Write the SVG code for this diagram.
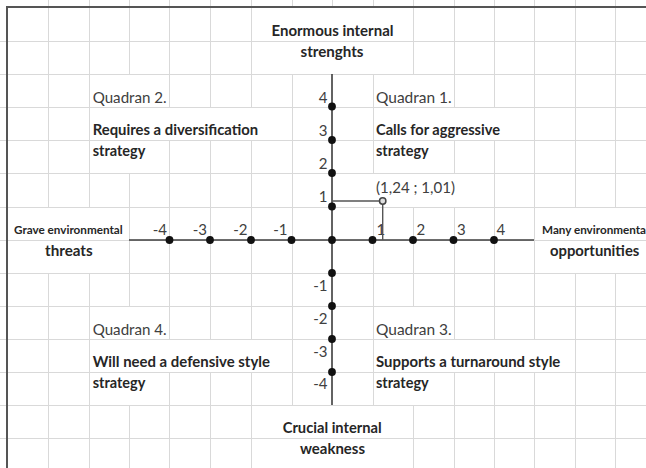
<svg xmlns="http://www.w3.org/2000/svg" width="646" height="468" viewBox="0 0 646 468">
<style>
.grid{stroke:#d9d9d9;stroke-width:1;fill:none;shape-rendering:crispEdges}
.border{stroke:#555;stroke-width:2;fill:none}
.axis{stroke:#3c3c3c;stroke-width:1.6;fill:none}
.conn{stroke:#555;stroke-width:1.4;fill:none}
.dot{fill:#111}
.b{font-family:Lato,"Liberation Sans",sans-serif;font-weight:bold;font-size:15px;fill:#262626}
.r{font-family:Lato,"Liberation Sans",sans-serif;font-size:15px;fill:#404040}
.s{font-family:Lato,"Liberation Sans",sans-serif;font-weight:bold;font-size:11.5px;fill:#262626}
.t{font-family:Lato,"Liberation Sans",sans-serif;font-size:15px;fill:#404040}
.c{text-anchor:middle}
.e{text-anchor:end}
</style>
<rect width="646" height="468" fill="#ffffff"/>
<g id="grid" class="grid">
<path d="M0 41.5H646M0 74.5H646M0 107.5H646M0 140.5H646M0 173.5H646M0 207.5H646M0 240.5H646M0 273.5H646M0 306.5H646M0 339.5H646M0 372.5H646M0 405.5H646M0 438.5H646"/>
<path d="M48.5 0V207M48.5 273V468
M89.5 0V207M89.5 273V468
M129.5 0V74M129.5 173V306M129.5 405V468
M169.5 0V107M169.5 140V339M169.5 372V468
M210.5 0V107M210.5 140V339M210.5 372V468
M251.5 0V107M251.5 140V339M251.5 372V468
M292.5 0V7M292.5 74V405
M332.5 0V7
M373.5 0V7M373.5 74V173M373.5 207V405
M413.5 0V74M413.5 207V306M413.5 405V468
M454.5 0V107M454.5 140V173M454.5 207V339M454.5 372V468
M494.5 0V107M494.5 140V339M494.5 372V468
M534.5 0V339M534.5 372V468
M575.5 0V207M575.5 273V468
M615.5 0V207M615.5 273V468"/>
</g>
<g id="sheet-border" class="border">
<path d="M7 7V468M6 7H646"/>
</g>
<g id="axes">
<line class="axis" x1="129" y1="240" x2="534" y2="240"/>
<line class="axis" x1="332" y1="74" x2="332" y2="405"/>
</g>
<g id="ticks" class="dot">
<circle cx="169.5" cy="240" r="3.9"/>
<circle cx="210" cy="240" r="3.9"/>
<circle cx="251" cy="240" r="3.9"/>
<circle cx="291.5" cy="240" r="3.9"/>
<circle cx="332" cy="240" r="3.9"/>
<circle cx="372.5" cy="240" r="3.9"/>
<circle cx="413" cy="240" r="3.9"/>
<circle cx="453.5" cy="240" r="3.9"/>
<circle cx="494" cy="240" r="3.9"/>
<circle cx="332" cy="106.5" r="3.9"/>
<circle cx="332" cy="140" r="3.9"/>
<circle cx="332" cy="173" r="3.9"/>
<circle cx="332" cy="206.5" r="3.9"/>
<circle cx="332" cy="273" r="3.9"/>
<circle cx="332" cy="306" r="3.9"/>
<circle cx="332" cy="339" r="3.9"/>
<circle cx="332" cy="372" r="3.9"/>
</g>
<g id="tick-labels">
<text class="t e" x="327.5" y="103">4</text>
<text class="t e" x="327.5" y="136">3</text>
<text class="t e" x="327.5" y="169">2</text>
<text class="t e" x="327.5" y="202">1</text>
<text class="t e" x="327.5" y="291">-1</text>
<text class="t e" x="327.5" y="324">-2</text>
<text class="t e" x="327.5" y="357">-3</text>
<text class="t e" x="327.5" y="389">-4</text>
<text class="t e" x="167" y="235">-4</text>
<text class="t e" x="207" y="235">-3</text>
<text class="t e" x="247.5" y="235">-2</text>
<text class="t e" x="287.5" y="235">-1</text>
<text class="t" x="376.5" y="235">1</text>
<text class="t" x="416.5" y="235">2</text>
<text class="t" x="457" y="235">3</text>
<text class="t" x="496.5" y="235">4</text>
</g>
<g id="connectors">
<polyline class="conn" points="332,201 382.7,201 382.7,240"/>
</g>
<g id="point">
<circle cx="382.7" cy="201" r="3.2" fill="#dedede" stroke="#444" stroke-width="1.5"/>
<text class="r" x="376" y="193" textLength="79" lengthAdjust="spacingAndGlyphs">(1,24 ; 1,01)</text>
</g>
<g id="top-label">
<text class="b c" x="332.5" y="36" textLength="122" lengthAdjust="spacingAndGlyphs">Enormous internal</text>
<text class="b c" x="332" y="57" textLength="63" lengthAdjust="spacingAndGlyphs">strenghts</text>
</g>
<g id="quadrant-2">
<text class="r" x="92.7" y="103" textLength="74" lengthAdjust="spacingAndGlyphs">Quadran 2.</text>
<text class="b" x="92.7" y="135" textLength="165.5" lengthAdjust="spacingAndGlyphs">Requires a diversification</text>
<text class="b" x="92.7" y="156" textLength="52.7" lengthAdjust="spacingAndGlyphs">strategy</text>
</g>
<g id="quadrant-1">
<text class="r" x="376" y="103" textLength="75.7" lengthAdjust="spacingAndGlyphs">Quadran 1.</text>
<text class="b" x="376" y="135" textLength="124" lengthAdjust="spacingAndGlyphs">Calls for aggressive</text>
<text class="b" x="376" y="156" textLength="52.7" lengthAdjust="spacingAndGlyphs">strategy</text>
</g>
<g id="left-label">
<text class="s" x="14" y="234" textLength="108.7" lengthAdjust="spacingAndGlyphs">Grave environmental</text>
<text class="b" x="45" y="255.5" textLength="47.7" lengthAdjust="spacingAndGlyphs">threats</text>
</g>
<g id="right-label">
<text class="s" x="542" y="234" textLength="104" lengthAdjust="spacingAndGlyphs">Many environmenta</text>
<text class="b" x="550" y="255.5" textLength="89.3" lengthAdjust="spacingAndGlyphs">opportunities</text>
</g>
<g id="quadrant-4">
<text class="r" x="92.7" y="335" textLength="74" lengthAdjust="spacingAndGlyphs">Quadran 4.</text>
<text class="b" x="92.7" y="367" textLength="177.3" lengthAdjust="spacingAndGlyphs">Will need a defensive style</text>
<text class="b" x="92.7" y="388" textLength="52.7" lengthAdjust="spacingAndGlyphs">strategy</text>
</g>
<g id="quadrant-3">
<text class="r" x="376" y="335" textLength="75.7" lengthAdjust="spacingAndGlyphs">Quadran 3.</text>
<text class="b" x="376" y="367" textLength="184.3" lengthAdjust="spacingAndGlyphs">Supports a turnaround style</text>
<text class="b" x="376" y="388" textLength="52.7" lengthAdjust="spacingAndGlyphs">strategy</text>
</g>
<g id="bottom-label">
<text class="b c" x="332.2" y="433" textLength="99" lengthAdjust="spacingAndGlyphs">Crucial internal</text>
<text class="b c" x="332.5" y="454" textLength="65" lengthAdjust="spacingAndGlyphs">weakness</text>
</g>
</svg>
